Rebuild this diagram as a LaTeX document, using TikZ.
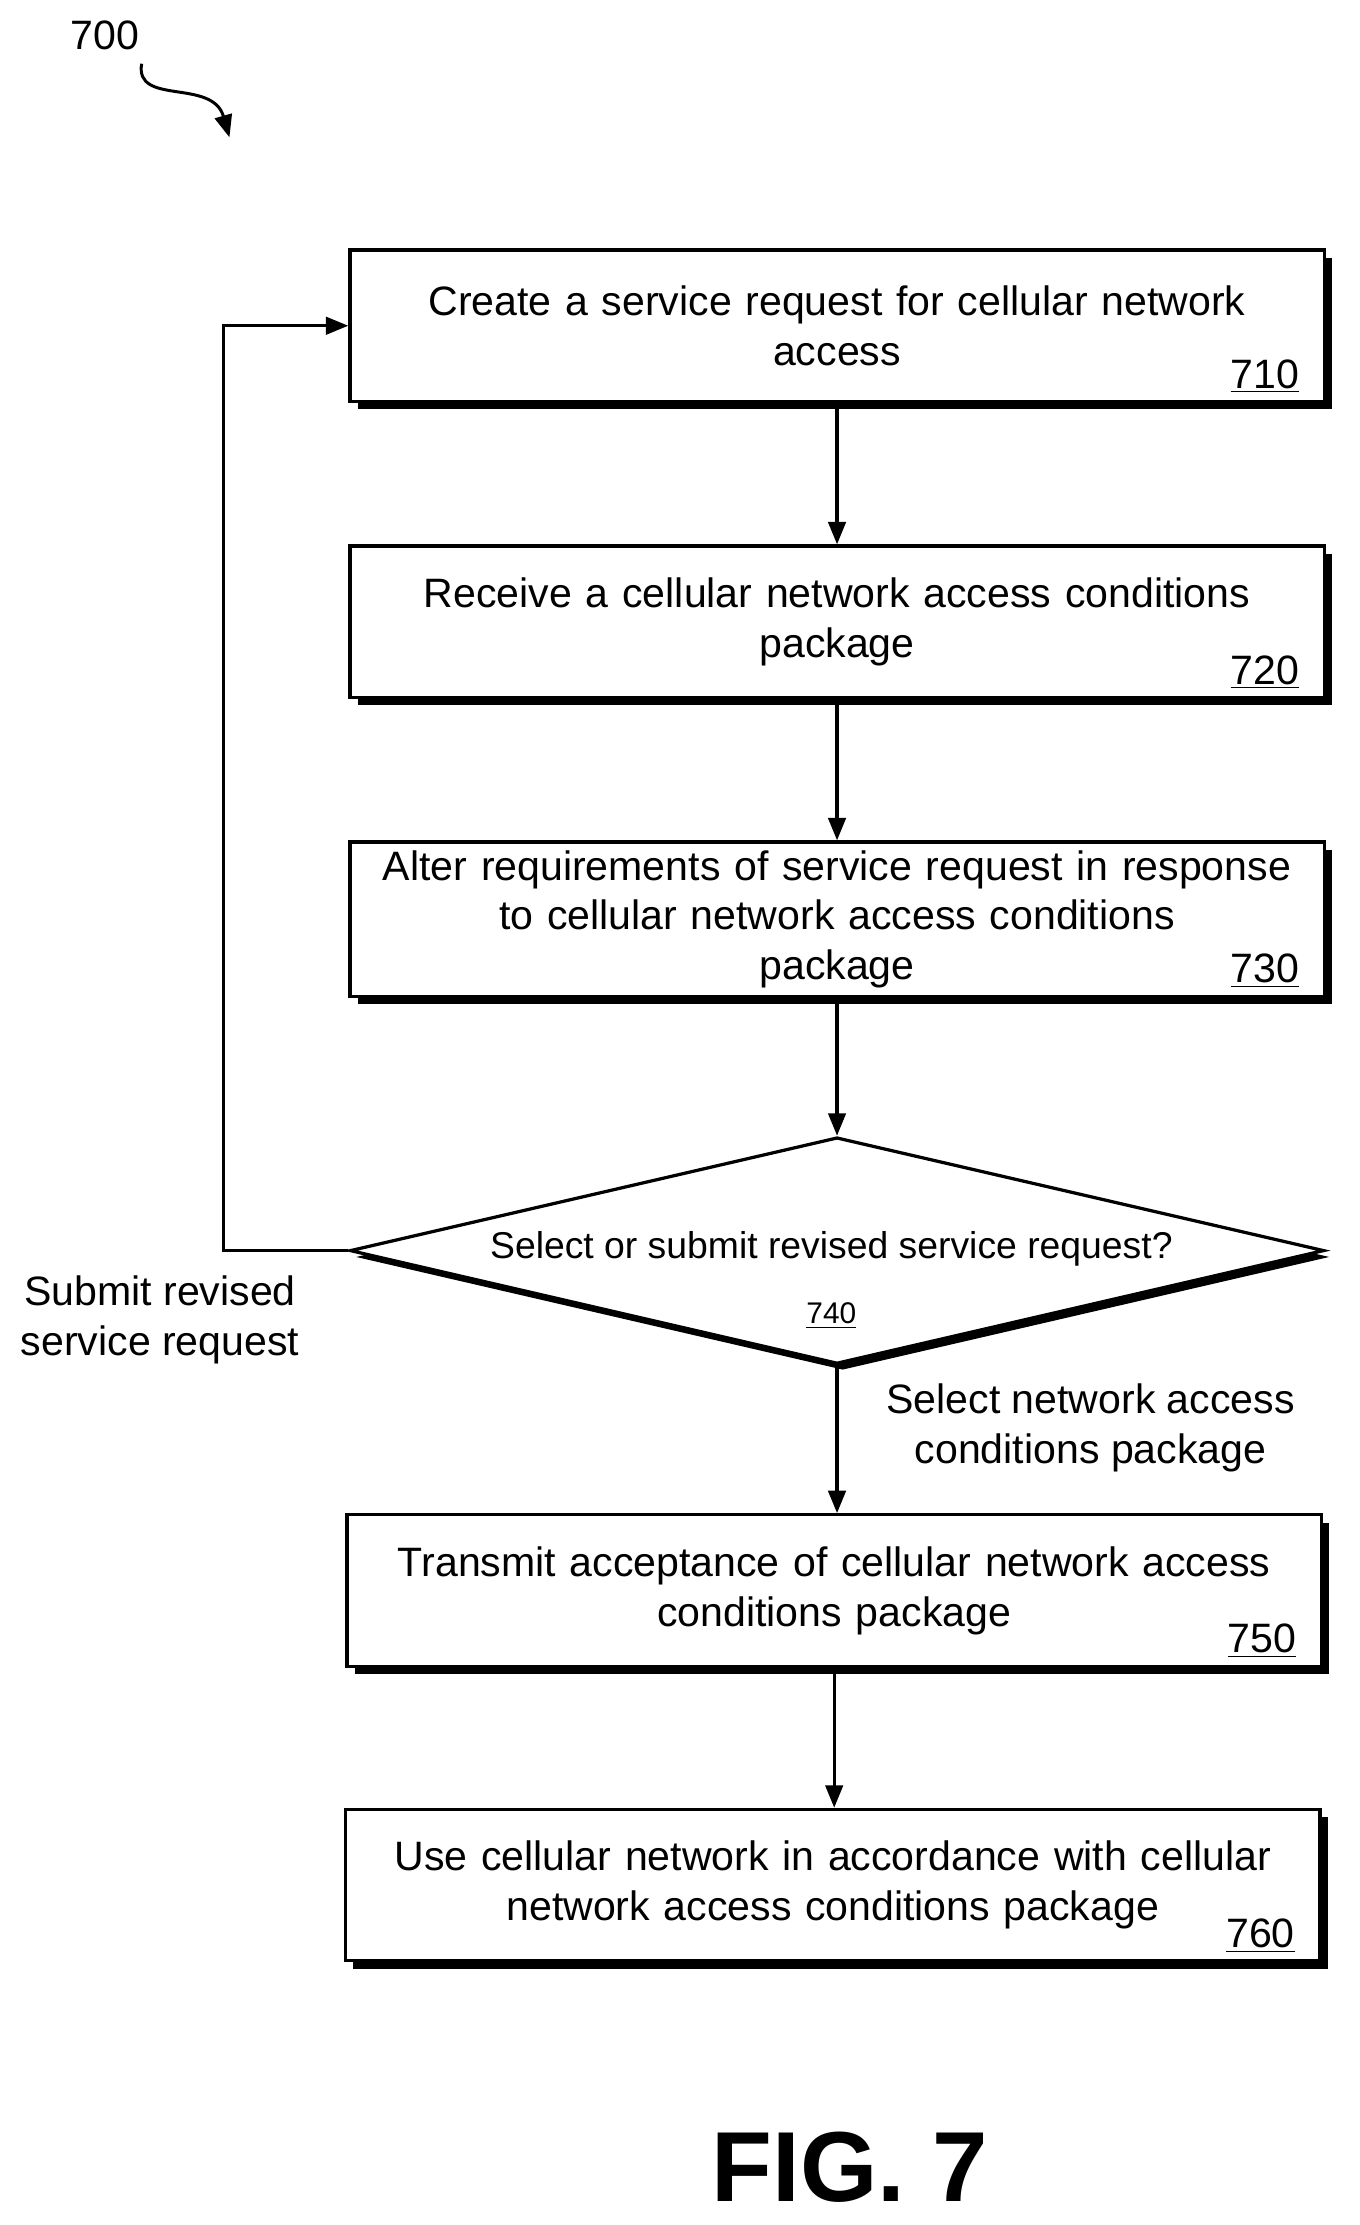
\documentclass[tikz,border=0pt]{standalone}
\usepackage{fontspec}
\setmainfont{Liberation Sans}
\usetikzlibrary{arrows.meta,shapes.geometric,shadows}
\begin{document}
\begin{tikzpicture}[x=0.02cm,y=-0.02cm,
  box/.style={draw,line width=1.3pt,fill=white,minimum width=13.76cm,minimum height=2.14cm,align=center,text width=13.3cm,font=\fontsize{16.5}{20}\selectfont,
    drop shadow={shadow xshift=0.11cm,shadow yshift=-0.11cm,fill=black,opacity=1}},
  num/.style={font=\fontsize{16.5}{18}\selectfont,anchor=south east,inner sep=2pt,xshift=-0.3cm,yshift=0.06cm},
  lab/.style={font=\fontsize{16.5}{20}\selectfont,align=center},
  arr/.style={line width=1.3pt,-{Triangle[length=9pt,width=7pt]}}]
\useasboundingbox (0,0) rectangle (960,1571);
\node[lab] (n700) at (74,25) {700};
\coordinate (s1) at (100,45);
\coordinate (s2) at (162,97);
\draw[line width=1.2pt,-{Triangle[length=9pt,width=7pt]}] (s1) .. controls (95,75) and (150,55) .. (s2);
\node[box] (b710) at (591,230) {Create a service request for cellular network\\access};
\node[num] at (b710.south east) {\underline{710}};
\node[box] (b720) at (591,439) {Receive a cellular network access conditions\\package};
\node[num] at (b720.south east) {\underline{720}};
\node[box] (b730) at (591,649) {Alter requirements of service request in response\\to cellular network access conditions\\package};
\node[num] at (b730.south east) {\underline{730}};
\node[draw,line width=1.3pt,fill=white,diamond,aspect=4.3,minimum width=13.76cm,minimum height=3.2cm,inner sep=0pt,
  drop shadow={shadow xshift=0.08cm,shadow yshift=-0.09cm,fill=black,opacity=1}] (d740) at (591,883) {};
\node[font=\fontsize{15}{17}\selectfont] at (587,882) {Select or submit revised service request?};
\node[font=\fontsize{12}{14}\selectfont] at (587,929) {\underline{740}};
\node[box] (b750) at (589,1123) {Transmit acceptance of cellular network access\\conditions package};
\node[num] at (b750.south east) {\underline{750}};
\node[box] (b760) at (588,1331) {Use cellular network in accordance with cellular\\network access conditions package};
\node[num] at (b760.south east) {\underline{760}};
\draw[arr] (b710.south) -- (b720.north);
\draw[arr] (b720.south) -- (b730.north);
\draw[arr] (b730.south) -- (d740.north);
\draw[arr] (d740.south) -- (d740.south |- b750.north);
\draw[arr] (b750.south) -- (b750.south |- b760.north);
\coordinate (c2) at (158,230);
\draw[arr] (d740.west) -| (c2) -- (b710.west);
\node[lab] at (113,932) {Submit revised\\service request};
\node[lab] at (770,1008) {Select network access\\conditions package};
\node[font=\fontsize{40}{44}\bfseries] at (600,1530) {FIG. 7};
\end{tikzpicture}
\end{document}
